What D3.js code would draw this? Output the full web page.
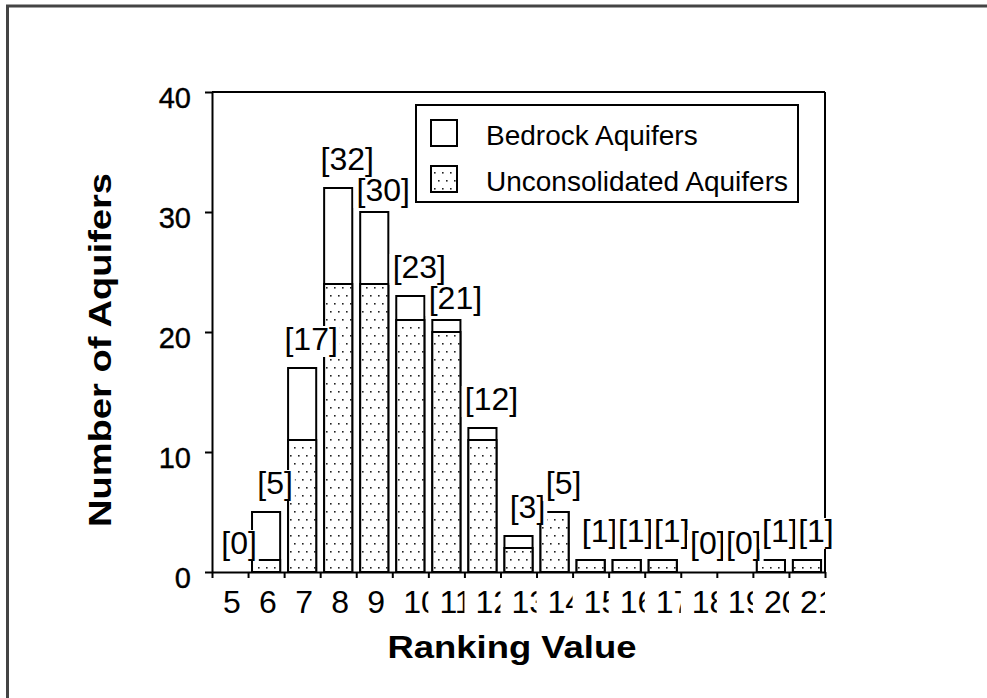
<!DOCTYPE html>
<html>
<head>
<meta charset="utf-8">
<script src="https://cdn.jsdelivr.net/npm/d3@7"></script>
<style>
  body { margin: 0; background: #fff; }
  text { font-family: "Liberation Sans", Arial, Helvetica, sans-serif; }
</style>
</head>
<body>
<div id="chart"></div>
<script>
// Data
const rankings = ["5", "6", "7", "8", "9", "10", "11", "12", "13", "14", "15", "16", "17", "18", "19", "20", "21"];
const totalCounts = [0, 5, 17, 32, 30, 23, 21, 12, 3, 5, 1, 1, 1, 0, 0, 1, 1];
const unconsolidatedCounts = [0, 1, 11, 24, 24, 21, 20, 11, 2, 5, 1, 1, 1, 0, 0, 1, 1];
const yTicks = [0, 10, 20, 30, 40];
const seriesNames = ["Bedrock Aquifers", "Unconsolidated Aquifers"];

const data = rankings.map((r, i) => ({
    rank: r,
    total: totalCounts[i],
    uncons: unconsolidatedCounts[i]
}));

// Dimensions and margins
const W = 987, H = 698;
const margin = { top: 92, right: 162, bottom: 126, left: 212 };
const width = W - margin.left - margin.right;
const height = H - margin.top - margin.bottom;

const root = d3.select("#chart")
    .append("svg")
    .attr("width", W)
    .attr("height", H);

// dotted fill
const defs = root.append("defs");
const pat = defs.append("pattern")
    .attr("id", "dots")
    .attr("patternUnits", "userSpaceOnUse")
    .attr("width", 8)
    .attr("height", 16);
pat.append("rect").attr("width", 8).attr("height", 16).attr("fill", "#fff");
pat.append("rect").attr("x", 2).attr("y", 3).attr("width", 1.6).attr("height", 1.6).attr("fill", "#222");
pat.append("rect").attr("x", 6).attr("y", 11).attr("width", 1.6).attr("height", 1.6).attr("fill", "#222");

// outer frame (left + top edges only)
root.append("line").attr("x1", 7.5).attr("x2", 7.5).attr("y1", 5).attr("y2", H)
    .attr("stroke", "#444").attr("stroke-width", 3);
root.append("line").attr("x1", 6).attr("x2", W).attr("y1", 6).attr("y2", 6)
    .attr("stroke", "#444").attr("stroke-width", 3);

const svg = root.append("g")
    .attr("transform", `translate(${margin.left},${margin.top})`);

// Scales
const x = d3.scaleBand()
    .domain(rankings)
    .range([0, width])
    .paddingInner(0.22)
    .paddingOuter(0.11);
const xEdge = d3.scaleLinear()
    .domain([0, rankings.length])
    .range([0, width]);
const y = d3.scaleLinear().domain([0, 40]).range([height, 0]);

// plot frame top + right
svg.append("line").attr("x1", 0).attr("x2", width).attr("y1", 0).attr("y2", 0)
    .attr("stroke", "#000").attr("stroke-width", 2);
svg.append("line").attr("x1", width).attr("x2", width).attr("y1", 0).attr("y2", height)
    .attr("stroke", "#000").attr("stroke-width", 2);

// Bars: full outline, then dotted unconsolidated part
const bars = svg.selectAll(".bar").data(data.filter(d => d.total > 0))
    .enter().append("g").attr("class", "bar");
bars.append("rect")
    .attr("x", d => x(d.rank))
    .attr("width", x.bandwidth())
    .attr("y", d => y(d.total))
    .attr("height", d => y(0) - y(d.total))
    .attr("fill", "#fff")
    .attr("stroke", "#000")
    .attr("stroke-width", 2);
bars.filter(d => d.uncons > 0).append("rect")
    .attr("x", d => x(d.rank))
    .attr("width", x.bandwidth())
    .attr("y", d => y(d.uncons))
    .attr("height", d => y(0) - y(d.uncons))
    .attr("fill", "url(#dots)")
    .attr("stroke", "#000")
    .attr("stroke-width", 2);

// Axes
svg.append("g")
    .attr("class", "y-axis")
    .call(d3.axisLeft(y).tickValues(yTicks).tickSize(7).tickSizeOuter(0).tickPadding(14))
    .call(g => g.selectAll("path, line").attr("stroke", "#000").attr("stroke-width", 2))
    .call(g => g.selectAll("text")
        .attr("font-size", 29)
        .attr("dy", "0.52em")
        .attr("fill", "#000")
        .attr("stroke", "#000")
        .attr("stroke-width", 0.4)
        .style("font-family", "'Liberation Sans', Arial, sans-serif"));

svg.append("g")
    .attr("class", "x-axis")
    .attr("transform", `translate(0,${height})`)
    .call(d3.axisBottom(xEdge).tickValues(d3.range(rankings.length + 1)).tickSize(6).tickSizeOuter(0).tickFormat(""))
    .call(g => g.selectAll("path, line").attr("stroke", "#000").attr("stroke-width", 2));

// x tick labels, clipped to their cell like the original
rankings.forEach((r, i) => {
    defs.append("clipPath").attr("id", "cell" + i)
        .append("rect")
        .attr("x", xEdge(i)).attr("y", height)
        .attr("width", xEdge(i + 1) - xEdge(i)).attr("height", 60);
});
svg.append("g").selectAll("text").data(rankings).enter().append("text")
    .attr("clip-path", (d, i) => `url(#cell${i})`)
    .attr("x", d => x(d) + x.bandwidth() / 2 - 7)
    .attr("y", height + 41)
    .attr("font-size", 32)
    .attr("fill", "#000")
    .text(d => d);

// value labels with opaque background; a label that would collide with the
// one on its left is pushed down while it still clears its own bar
const lab = svg.append("g");
let prev = null;
data.forEach(d => {
    const g = lab.append("g");
    const bg = g.append("rect").attr("fill", "#fff");
    let base = y(d.total) - 18;
    const t = g.append("text")
        .attr("x", x(d.rank) + x.bandwidth() / 2 + 9)
        .attr("y", base)
        .attr("text-anchor", "middle")
        .attr("font-size", 32)
        .attr("fill", "#000")
        .text(`[${d.total}]`);
    const bb = t.node().getBBox();
    if (prev && bb.x - 3 < prev.x1 && base - 23 < prev.bottom) {
        const need = prev.bottom + 1 - (base - 23);
        if (base + need + 7 <= y(d.total) - 2) {
            base += need;
            t.attr("y", base);
        }
    }
    bg.attr("x", bb.x - 3).attr("y", base - 24)
        .attr("width", bb.width + 5).attr("height", 31);
    prev = { x1: bb.x + bb.width + 2, bottom: base + 7 };
});

// Legend
const leg = svg.append("g").attr("transform", `translate(${416 - margin.left},${105 - margin.top})`);
leg.append("rect").attr("width", 382).attr("height", 97)
    .attr("fill", "#fff").attr("stroke", "#000").attr("stroke-width", 2);
seriesNames.forEach((name, i) => {
    leg.append("rect")
        .attr("x", 15).attr("y", 15 + i * 46)
        .attr("width", 26).attr("height", 26)
        .attr("fill", i === 0 ? "#fff" : "url(#dots)")
        .attr("stroke", "#000").attr("stroke-width", 2);
    leg.append("text")
        .attr("x", 70).attr("y", 40 + i * 46)
        .attr("font-size", 28)
        .attr("fill", "#000")
        .text(name);
});

// Axis titles
svg.append("text")
    .attr("transform", `translate(${111 - margin.left},${350 - margin.top}) rotate(-90)`)
    .attr("text-anchor", "middle")
    .attr("font-size", 31)
    .attr("font-weight", "bold")
    .attr("textLength", 354)
    .attr("lengthAdjust", "spacingAndGlyphs")
    .text("Number of Aquifers");

svg.append("text")
    .attr("x", 512 - margin.left)
    .attr("y", 658 - margin.top)
    .attr("text-anchor", "middle")
    .attr("font-size", 31)
    .attr("font-weight", "bold")
    .attr("textLength", 249)
    .attr("lengthAdjust", "spacingAndGlyphs")
    .text("Ranking Value");
</script>
</body>
</html>
